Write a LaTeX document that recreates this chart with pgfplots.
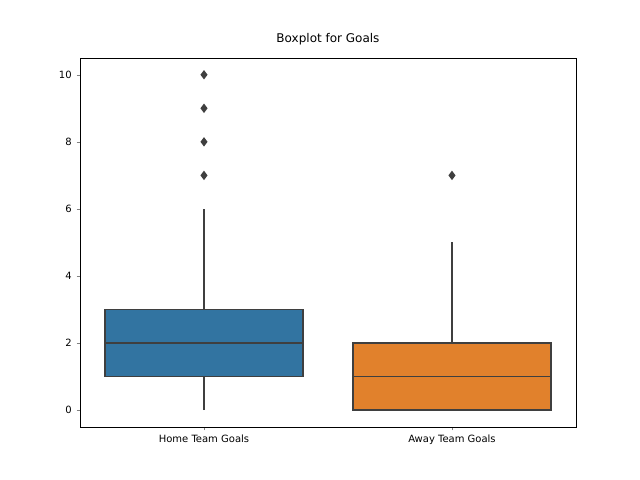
\documentclass[border=0pt]{standalone}
\usepackage{pgfplots}
\pgfplotsset{compat=1.18}
\usepgfplotslibrary{statistics}
\usepackage{fontspec}
\setmainfont{DejaVu Sans}
\definecolor{sbblue}{HTML}{3274A1}
\definecolor{sborange}{HTML}{E1812C}
\definecolor{lg}{HTML}{3F3F3F}
\begin{document}
\begin{tikzpicture}
\begin{axis}[at={(0,0)},anchor=south west,scale only axis,
 width=357.1pt,height=265.7pt,
 boxplot/draw direction=y,
 xmin=-0.5,xmax=1.5,ymin=-0.5,ymax=10.5,
 xtick={0,1},xticklabels={Home Team Goals,Away Team Goals},
 ytick={0,2,4,6,8,10},
 tick label style={font=\fontsize{7.2}{8}\selectfont},
 /pgf/number format/assume math mode=true,
 title={Boxplot for Goals},title style={font=\fontsize{8.64}{10}\selectfont},
 tick align=outside, xtick pos=bottom, ytick pos=left,
 major tick length=2.5pt,
 axis line style={line width=0.6pt}]
\addplot[boxplot prepared={lower whisker=0,lower quartile=1,median=2,upper quartile=3,upper whisker=6,draw position=0,box extend=0.8,whisker extend=0},
 draw=lg,line width=1.08pt,fill=sbblue,mark=diamond*,mark size=2.5pt,mark options={fill=lg,draw=lg}]
 table[row sep=\\,y index=0]{7\\8\\9\\10\\};
\addplot[boxplot prepared={lower whisker=0,lower quartile=0,median=1,upper quartile=2,upper whisker=5,draw position=1,box extend=0.8,whisker extend=0},
 draw=lg,line width=1.08pt,fill=sborange,mark=diamond*,mark size=2.5pt,mark options={fill=lg,draw=lg}]
 table[row sep=\\,y index=0]{7\\};
\end{axis}
\useasboundingbox (-57.6pt,-38.16pt) rectangle (403.2pt,307.44pt);
\end{tikzpicture}
\end{document}
